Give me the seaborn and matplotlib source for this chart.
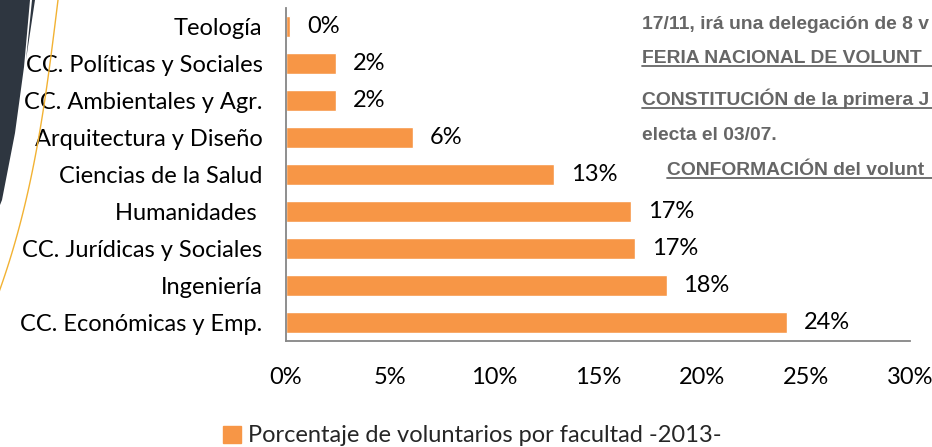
import numpy as np
import seaborn as sns
import matplotlib.pyplot as plt
from matplotlib.patches import Polygon, Patch
from matplotlib.lines import Line2D

# data (percent of volunteers by faculty, 2013)
facultades = [
    'Teología',
    'CC. Políticas y Sociales',
    'CC. Ambientales y Agr.',
    'Arquitectura y Diseño',
    'Ciencias de la Salud',
    'Humanidades ',
    'CC. Jurídicas y Sociales',
    'Ingeniería',
    'CC. Económicas y Emp.',
]
porcentajes = [0.2, 2.4, 2.4, 6.1, 12.9, 16.6, 16.8, 18.3, 24.1]
serie = 'Porcentaje de voluntarios por facultad -2013-'
x_ticks = [0, 5, 10, 15, 20, 25, 30]

# background slide text that shows through on the right (cut by the frame)
slide_lines = [
    '17/11, irá una delegación de 8 v',
    'FERIA NACIONAL DE VOLUNT',
    'CONSTITUCIÓN de la primera J',
    'electa el 03/07.',
    'CONFORMACIÓN del volunt',
]
slide_underline = [False, True, True, False, True]

W, H = 932, 447
BAR = '#F79646'
SPINE = '#868686'
SLIDE = '#666666'

sns.set_theme(style='white')
plt.rcParams['font.family'] = ['Lato', 'DejaVu Sans']

fig = plt.figure(figsize=(W / 100, H / 100), dpi=100)
ax = fig.add_axes([286 / W, 1 - 341 / H, (910 - 286) / W, (341 - 8) / H])


def px(x, y):
    return (x / W, 1 - y / H)


sns.barplot(x=porcentajes, y=facultades, orient='h', color=BAR,
            saturation=1, width=0.57, ax=ax)
ax.bar_label(ax.containers[0], labels=[f'{v:.0f}%' for v in porcentajes],
             padding=12, fontsize=17, color='black')

ax.set_xlim(0, 30)
ax.set_ylim(8.5, -0.5)
ax.set_xticks(x_ticks)
ax.set_xticklabels([f'{t}%' for t in x_ticks])
ax.set_xlabel('')
ax.set_ylabel('')
ax.tick_params(axis='both', length=0, labelsize=17, colors='black')
ax.tick_params(axis='x', pad=19)
ax.tick_params(axis='y', pad=17)
sns.despine(ax=ax)
for side in ('left', 'bottom'):
    ax.spines[side].set_color(SPINE)
    ax.spines[side].set_linewidth(1.3)

fig.legend(handles=[Patch(color=BAR, label=serie)], loc='center',
           bbox_to_anchor=px(472, 436), frameon=False, fontsize=17,
           handlelength=0.75, handleheight=0.75, handletextpad=0.3)

# slide text behind the chart (baselines)
ys = [29, 63, 105, 140, 175]
xs = [642, 642, 642, 642, 667]
for s, x, y, u in zip(slide_lines, xs, ys, slide_underline):
    t = fig.text(*px(x, y), s, family='Liberation Sans', weight='bold',
                 fontsize=13.9, color=SLIDE, va='baseline', ha='left')
    if u:
        fig.add_artist(Line2D([x / W, 1.0], [1 - (y + 3) / H] * 2,
                              color=SLIDE, lw=1.3))

# slide decoration on the left edge
dark = '#2E3640'
fig.add_artist(Polygon([px(0, 0), px(30, 0), px(24, 67), px(15, 133),
                        px(2, 200), px(0, 205)], closed=True,
                       facecolor=dark, edgecolor='none', zorder=5))
fig.add_artist(Polygon([px(32, 0), px(35, 0), px(26, 60)], closed=True,
                       facecolor=dark, edgecolor='none', zorder=5))
yy = np.linspace(0, 405, 60)
xx = 58 - 27 * (yy / 220) - 0.045 * yy * (yy / 220) ** 2
fig.add_artist(Line2D(xx / W, 1 - yy / H, color='#F2B233', lw=1.0, zorder=6))

fig.savefig('out.png', dpi=100)
